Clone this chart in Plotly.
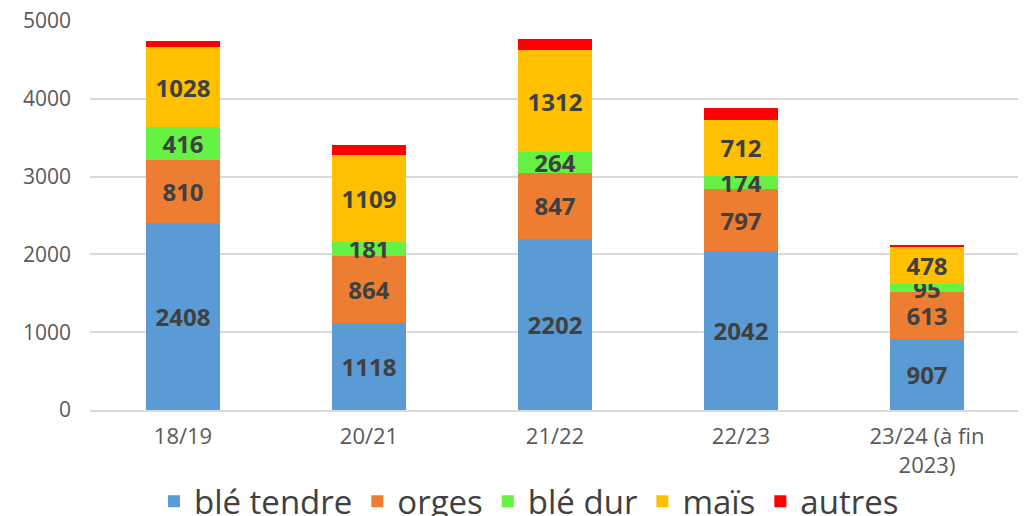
import plotly.graph_objects as go

categories = ["18/19", "20/21", "21/22", "22/23", "23/24 (à fin<br>2023)"]
ble_tendre = [2408, 1118, 2202, 2042, 907]
orges = [810, 864, 847, 797, 613]
ble_dur = [416, 181, 264, 174, 95]
mais = [1028, 1109, 1312, 712, 478]
autres = [85, 140, 145, 160, 30]

series = [
    ("blé tendre", ble_tendre, "#5B9BD5", True),
    ("orges", orges, "#ED7D31", True),
    ("blé dur", ble_dur, "#66F244", True),
    ("maïs", mais, "#FFC000", True),
    ("autres", autres, "#FF0000", False),
]

fig = go.Figure()
for name, vals, color, lab in series:
    fig.add_trace(go.Bar(
        x=categories, y=vals, name=name,
        marker=dict(color=color, line=dict(width=0)),
        text=vals if lab else None,
        texttemplate="<b>%{text}</b>" if lab else None,
        textposition="inside" if lab else "none",
        insidetextanchor="middle",
        constraintext="none",
        cliponaxis=False,
        textangle=0,
        textfont=dict(size=24, color="#404040", family="Open Sans, Liberation Sans, sans-serif"),
    ))

fig.update_layout(
    barmode="stack",
    bargap=0.6,
    width=1018, height=508,
    margin=dict(l=82, r=6, t=13, b=106, autoexpand=False),
    plot_bgcolor="white", paper_bgcolor="white",
    uniformtext=dict(mode=False),
    font=dict(family="Open Sans, Liberation Sans, sans-serif", color="#595959"),
    yaxis=dict(range=[0, 5000], dtick=1000, showgrid=True, gridcolor="#D9D9D9", gridwidth=1.5,
               zeroline=False, tickfont=dict(size=21, color="#595959"), ticks="", ticklen=0,
               showline=False, automargin=False, ticklabelstandoff=18,
               ticklabeloverflow="allow"),
    xaxis=dict(tickfont=dict(size=22, color="#595959"), showline=True, linecolor="#D9D9D9",
               linewidth=1.5, ticks="", automargin=False, ticklabelstandoff=6,
               ticklabeloverflow="allow"),
    legend=dict(orientation="h", x=0.472, xanchor="center", y=-0.235, yanchor="middle",
                font=dict(size=33, color="#404040"), itemwidth=30, traceorder="normal"),
)

fig.write_html("out.html")
